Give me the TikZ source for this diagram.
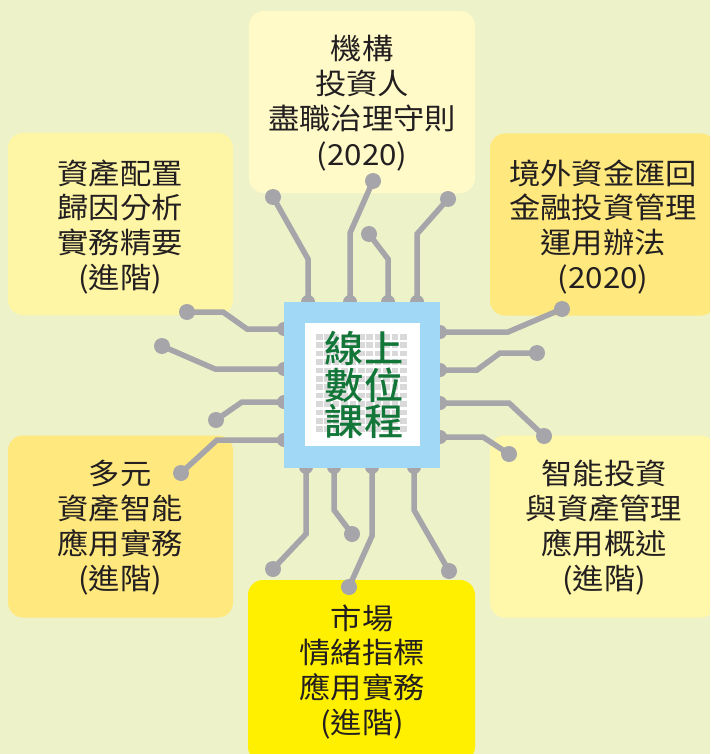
\documentclass[tikz,border=0pt]{standalone}
\usepackage{fontspec}
\newfontfamily\cjk[FakeStretch=1.08]{Noto Sans CJK TC}
\newfontfamily\cjkmed[FakeStretch=1.06]{Noto Sans CJK TC Medium}
\definecolor{bg}{RGB}{237,242,200}
\definecolor{boxA}{RGB}{255,250,200}
\definecolor{boxB}{RGB}{255,246,165}
\definecolor{boxC}{RGB}{255,232,125}
\definecolor{boxD}{RGB}{255,248,170}
\definecolor{boxE}{RGB}{255,240,0}
\definecolor{chipblue}{RGB}{160,216,245}
\definecolor{traceg}{RGB}{166,166,170}
\definecolor{gridg}{RGB}{217,217,217}
\definecolor{chipgreen}{RGB}{18,118,56}
\definecolor{txt}{RGB}{35,31,32}
\begin{document}
\begin{tikzpicture}[x=1pt,y=-1pt,
  box/.style={rounded corners=15pt, minimum width=226pt, minimum height=182pt, inner sep=0pt, draw=none},
  trace/.style={line width=5.5pt, draw=traceg},
  enddot/.style={circle, fill=traceg, minimum size=16pt, inner sep=0pt},
  padpin/.style={circle, fill=traceg, minimum size=14pt, inner sep=0pt},
  ln/.style={anchor=base, inner sep=0pt, text=txt, font=\cjk\fontsize{29}{29}\selectfont},
  chipln/.style={anchor=base, inner sep=0pt, text=chipgreen, font=\cjkmed\fontsize{37}{37}\selectfont}]
\useasboundingbox (0,0) rectangle (710,754);
\begin{scope}
\clip (0,0) rectangle (710,754);
\fill[bg] (0,0) rectangle (710,754);

% boxes
\node[box, fill=boxA] (btop) at (362,102) {};
\node[box, fill=boxB, minimum width=225pt] (blu) at (120.5,224) {};
\node[box, fill=boxC] (bru) at (603,224.5) {};
\node[box, fill=boxC, minimum width=225pt] (bll) at (120.5,526.5) {};
\node[box, fill=boxD] (brl) at (603,526.5) {};
\node[box, fill=boxE, minimum width=227pt] (bbt) at (361.5,671) {};

% box texts
\foreach \t [count=\i from 0] in {機構,投資人,盡職治理守則,{(2020)}}
  \node[ln] (ta\i) at (362,60+35*\i) {\t};
\foreach \t [count=\i from 0] in {資產配置,歸因分析,實務精要,{(進階)}}
  \node[ln] (tb\i) at (120,184+34.7*\i) {\t};
\foreach \t [count=\i from 0] in {境外資金匯回,金融投資管理,運用辦法,{(2020)}}
  \node[ln] (tc\i) at (603,184+34.7*\i) {\t};
\foreach \t [count=\i from 0] in {多元,資產智能,應用實務,{(進階)}}
  \node[ln] (td\i) at (120,484+35*\i) {\t};
\foreach \t [count=\i from 0] in {智能投資,與資產管理,應用概述,{(進階)}}
  \node[ln] (te\i) at (604,484+35*\i) {\t};
\foreach \t [count=\i from 0] in {市場,情緒指標,應用實務,{(進階)}}
  \node[ln] (tf\i) at (362,629+34.7*\i) {\t};

% pads (pins) on the chip edges
\node[padpin] (pT1) at (308,302) {};
\node[padpin] (pT2) at (350,302) {};
\node[padpin] (pT3) at (388,302) {};
\node[padpin] (pT4) at (417,302) {};
\node[padpin] (pL1) at (284,329) {};
\node[padpin] (pL2) at (284,369) {};
\node[padpin] (pL3) at (284,402) {};
\node[padpin] (pL4) at (284,440) {};
\node[padpin] (pR1) at (440,332) {};
\node[padpin] (pR2) at (440,370) {};
\node[padpin] (pR3) at (440,403) {};
\node[padpin] (pR4) at (440,437) {};
\node[padpin] (pB1) at (306,467) {};
\node[padpin] (pB2) at (334,467) {};
\node[padpin] (pB3) at (372,467) {};
\node[padpin] (pB4) at (414,467) {};

% end dots
\node[enddot] (eT1) at (273,197) {};
\node[enddot] (eT2) at (373,181) {};
\node[enddot] (eT3) at (369,234) {};
\node[enddot] (eT4) at (448,199) {};
\node[enddot] (eL1) at (187,312) {};
\node[enddot] (eL2) at (162,346) {};
\node[enddot] (eL3) at (216,420) {};
\node[enddot] (eL4) at (181,473) {};
\node[enddot] (eR1) at (562,309) {};
\node[enddot] (eR2) at (537,353) {};
\node[enddot] (eR3) at (544,436) {};
\node[enddot] (eR4) at (509,454) {};
\node[enddot] (eB1) at (273,569) {};
\node[enddot] (eB2) at (352,534) {};
\node[enddot] (eB3) at (349,587) {};
\node[enddot] (eB4) at (449,571) {};

% traces
\draw[trace] (pT1.center) -- (308,259) -- (eT1.center);
\draw[trace] (pT2.center) -- (350,233) -- (eT2.center);
\draw[trace] (pT3.center) -- (388,259) -- (eT3.center);
\draw[trace] (pT4.center) -- (417,234) -- (eT4.center);
\draw[trace] (pL1.center) -- (247,329) -- (223,312) -- (eL1.center);
\draw[trace] (pL2.center) -- (215,369) -- (eL2.center);
\draw[trace] (pL3.center) -- (242,402) -- (eL3.center);
\draw[trace] (pL4.center) -- (217,440) -- (eL4.center);
\draw[trace] (pR1.center) -- (508,332) -- (eR1.center);
\draw[trace] (pR2.center) -- (477,370) -- (500,353) -- (eR2.center);
\draw[trace] (pR3.center) -- (509,403) -- (eR3.center);
\draw[trace] (pR4.center) -- (483,437) -- (eR4.center);
\draw[trace] (pB1.center) -- (306,534) -- (eB1.center);
\draw[trace] (pB2.center) -- (334,510) -- (eB2.center);
\draw[trace] (pB3.center) -- (372,536) -- (eB3.center);
\draw[trace] (pB4.center) -- (414,510) -- (eB4.center);

% chip
\fill[chipblue] (284,302) rectangle (440,468);
\fill[white] (305,323) rectangle (420,446);
\foreach \a in {0,...,10}
  \foreach \b in {0,...,11}
    \fill[gridg] (316+8.4*\a,334+8.4*\b) rectangle ++(6.6,5.6);
\node[chipln] (c1) at (364,362) {線上};
\node[chipln] (c2) at (364,399) {數位};
\node[chipln] (c3) at (364,435) {課程};
\end{scope}
\end{tikzpicture}
\end{document}
